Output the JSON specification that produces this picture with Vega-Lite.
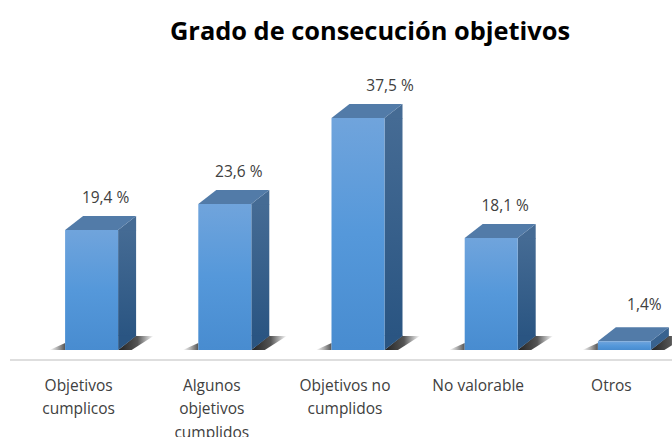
{"$schema":"https://vega.github.io/schema/vega-lite/v6.json","width":662,"height":290,"autosize":"none","padding":{"left":10,"top":60,"right":0,"bottom":87},"background":"white","view":{"stroke":null},"config":{"font":"Open Sans"},
"title":{"text":"Grado de consecución objetivos","font":"Open Sans","fontSize":25.4,"fontWeight":"bold","color":"#000000","anchor":"middle","dx":29,"offset":15},
"data":{"values":[{"cat":"Objetivos cumplicos","value":19.4,"label":"19,4 %"},{"cat":"Algunos objetivos cumplidos","value":23.6,"label":"23,6 %"},{"cat":"Objetivos no cumplidos","value":37.5,"label":"37,5 %"},{"cat":"No valorable","value":18.1,"label":"18,1 %"},{"cat":"Otros","value":1.4,"label":"1,4%"}]},
"layer":[
{"mark":{"type":"rule","color":"#dedede","strokeWidth":2,"yOffset":10},"encoding":{"y":{"datum":0,"type":"quantitative","scale":{"domain":[0,46.85],"nice":false,"zero":false},"axis":null}}},
{"mark":{"type":"point","filled":true,"opacity":1,"size":4,"shape":"M-26.5,0 L-42,0 L-26.5,-7 Z","stroke":null,"fill":{"x1":0,"y1":0,"x2":1,"y2":0,"gradient":"linear","stops":[{"offset":0,"color":"#ffffff"},{"offset":0.5,"color":"#b0b0b0"},{"offset":1,"color":"#555555"}]}},
"encoding":{"x":{"field":"cat","type":"nominal","sort":null,"scale":{"range":[15,681],"paddingInner":0,"paddingOuter":0},"axis":{"title":null,"domain":false,"ticks":false,"labelAngle":0,"labelFont":"Open Sans","labelFontSize":15.5,"labelColor":"#404040","labelPadding":35,"labelOffset":-13,"labelLimit":0,"labelLineHeight":23.5,"labelBaseline":"middle","labelExpr":"datum.label=='Objetivos cumplicos'?['Objetivos','cumplicos']:datum.label=='Algunos objetivos cumplidos'?['Algunos','objetivos','cumplidos']:datum.label=='Objetivos no cumplidos'?['Objetivos no','cumplidos']:datum.label"}},"y":{"datum":0,"type":"quantitative"}}},
{"mark":{"type":"point","filled":true,"opacity":1,"size":4,"shape":"M26.5,0 L44,-14 L62,-14 L40,0 Z","stroke":null,"fill":{"x1":0,"y1":0,"x2":1,"y2":0,"gradient":"linear","stops":[{"offset":0,"color":"#222222"},{"offset":0.55,"color":"#555555"},{"offset":1,"color":"#ffffff"}]}},
"encoding":{"x":{"field":"cat","type":"nominal","sort":null},"y":{"datum":0,"type":"quantitative"}}},
{"transform":[{"filter":"datum.value>5"}],"mark":{"type":"bar","width":18,"xOffset":35.5,"y2Offset":-14,"fill":{"x1":0,"y1":0,"x2":0,"y2":1,"gradient":"linear","stops":[{"offset":0,"color":"#456b94"},{"offset":1,"color":"#2a5582"}]}},
"encoding":{"x":{"field":"cat","type":"nominal","sort":null},"y":{"field":"value","type":"quantitative"},"y2":{"datum":0}}},
{"transform":[{"filter":"datum.value>5"}],"mark":{"type":"point","filled":true,"opacity":1,"size":4,"shape":"M26.5,0 L44.5,-14 L44.5,0.5 L26.5,0.5 Z","color":"#456b94","stroke":null},
"encoding":{"x":{"field":"cat","type":"nominal","sort":null},"y":{"field":"value","type":"quantitative"}}},
{"transform":[{"filter":"datum.value>5"}],"mark":{"type":"point","filled":true,"opacity":1,"size":4,"shape":"M26.5,0 L26.5,-14.5 L44.5,-14.5 L44.5,-14 Z","color":"#2a5582","stroke":null},
"encoding":{"x":{"field":"cat","type":"nominal","sort":null},"y":{"datum":0,"type":"quantitative"}}},
{"transform":[{"filter":"datum.value<=5"}],"mark":{"type":"point","filled":true,"opacity":1,"size":4,"shape":"M26.5,0 L44.5,-14 L44.5,-5.4 L26.5,8.6 Z","color":"#38628f","stroke":null},
"encoding":{"x":{"field":"cat","type":"nominal","sort":null},"y":{"field":"value","type":"quantitative"}}},
{"mark":{"type":"point","filled":true,"opacity":1,"size":4,"shape":"M-26.5,0 L26.5,0 L44.5,-14 L-8.5,-14 Z","color":"#527ba8","stroke":null},
"encoding":{"x":{"field":"cat","type":"nominal","sort":null},"y":{"field":"value","type":"quantitative"}}},
{"mark":{"type":"bar","width":53,"fill":{"x1":0,"y1":0,"x2":0,"y2":1,"gradient":"linear","stops":[{"offset":0,"color":"#70a4dc"},{"offset":0.5,"color":"#5598da"},{"offset":1,"color":"#488cd0"}]}},
"encoding":{"x":{"field":"cat","type":"nominal","sort":null},"y":{"field":"value","type":"quantitative"},"y2":{"datum":0}}},
{"transform":[{"filter":"datum.value>5 && datum.value<30"}],"mark":{"type":"text","font":"Open Sans","fontSize":15.5,"color":"#404040","dx":14,"dy":-32},
"encoding":{"x":{"field":"cat","type":"nominal","sort":null},"y":{"field":"value","type":"quantitative"},"text":{"field":"label"}}},
{"transform":[{"filter":"datum.value>=30"}],"mark":{"type":"text","font":"Open Sans","fontSize":15.5,"color":"#404040","dx":32,"dy":-32},
"encoding":{"x":{"field":"cat","type":"nominal","sort":null},"y":{"field":"value","type":"quantitative"},"text":{"field":"label"}}},
{"transform":[{"filter":"datum.value<=5"}],"mark":{"type":"text","font":"Open Sans","fontSize":15.5,"color":"#404040","dx":20,"dy":-36},
"encoding":{"x":{"field":"cat","type":"nominal","sort":null},"y":{"field":"value","type":"quantitative"},"text":{"field":"label"}}}
]}
